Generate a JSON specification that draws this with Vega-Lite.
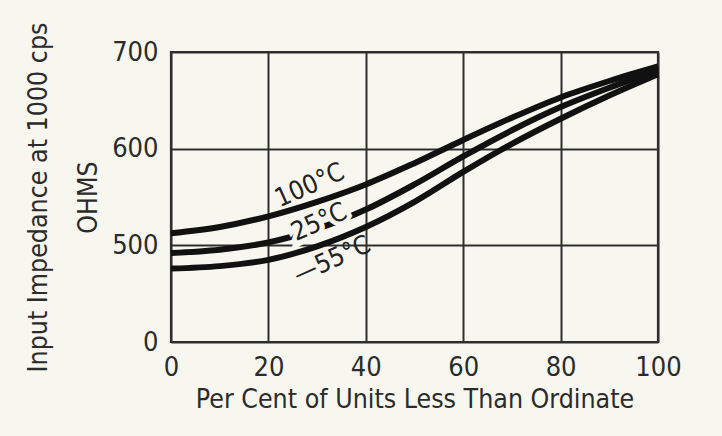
{
  "$schema": "https://vega.github.io/schema/vega-lite/v6.json",
  "width": 487,
  "height": 290,
  "padding": {"left": 171, "top": 52, "right": 64, "bottom": 94},
  "autosize": {"type": "none"},
  "background": "#f7f7ef",
  "config": {
    "font": "DejaVu Sans Condensed",
    "view": {"stroke": "#2e2e2e", "strokeWidth": 2.2},
    "axis": {
      "labelFont": "DejaVu Sans Condensed",
      "titleFont": "DejaVu Sans Condensed",
      "labelColor": "#2b2b2b",
      "titleColor": "#2b2b2b",
      "labelFontSize": 27,
      "titleFontSize": 26.5,
      "titleFontWeight": "normal",
      "gridColor": "#2e2e2e",
      "gridWidth": 2,
      "gridOpacity": 1,
      "domain": false,
      "ticks": false
    }
  },
  "datasets": {
    "curves": [
      {"pct": 0, "ohms": 512.5, "temp": "100°C"},
      {"pct": 10, "ohms": 519, "temp": "100°C"},
      {"pct": 20, "ohms": 530, "temp": "100°C"},
      {"pct": 30, "ohms": 545, "temp": "100°C"},
      {"pct": 40, "ohms": 563, "temp": "100°C"},
      {"pct": 50, "ohms": 585, "temp": "100°C"},
      {"pct": 60, "ohms": 609, "temp": "100°C"},
      {"pct": 70, "ohms": 632, "temp": "100°C"},
      {"pct": 80, "ohms": 653, "temp": "100°C"},
      {"pct": 90, "ohms": 670, "temp": "100°C"},
      {"pct": 100, "ohms": 685, "temp": "100°C"},
      {"pct": 0, "ohms": 492, "temp": "25°C"},
      {"pct": 10, "ohms": 495.5, "temp": "25°C"},
      {"pct": 20, "ohms": 503, "temp": "25°C"},
      {"pct": 30, "ohms": 517, "temp": "25°C"},
      {"pct": 40, "ohms": 537, "temp": "25°C"},
      {"pct": 50, "ohms": 563, "temp": "25°C"},
      {"pct": 60, "ohms": 592, "temp": "25°C"},
      {"pct": 70, "ohms": 619, "temp": "25°C"},
      {"pct": 80, "ohms": 643, "temp": "25°C"},
      {"pct": 90, "ohms": 663, "temp": "25°C"},
      {"pct": 100, "ohms": 681, "temp": "25°C"},
      {"pct": 0, "ohms": 476, "temp": "-55°C"},
      {"pct": 10, "ohms": 478.5, "temp": "-55°C"},
      {"pct": 20, "ohms": 485, "temp": "-55°C"},
      {"pct": 30, "ohms": 499, "temp": "-55°C"},
      {"pct": 40, "ohms": 519, "temp": "-55°C"},
      {"pct": 50, "ohms": 545, "temp": "-55°C"},
      {"pct": 60, "ohms": 576, "temp": "-55°C"},
      {"pct": 70, "ohms": 605, "temp": "-55°C"},
      {"pct": 80, "ohms": 631, "temp": "-55°C"},
      {"pct": 90, "ohms": 655, "temp": "-55°C"},
      {"pct": 100, "ohms": 677, "temp": "-55°C"}
    ],
    "labels": [
      {"pct": 28.5, "ohms": 562, "text": "100°C", "temp": "100°C"},
      {"pct": 30.4, "ohms": 524, "text": "25°C", "temp": "25°C"},
      {"pct": 33.1, "ohms": 485, "text": "—55°C", "temp": "-55°C"}
    ]
  },
  "encoding": {
    "x": {
      "field": "pct",
      "type": "quantitative",
      "scale": {"domain": [0, 100], "nice": false},
      "axis": {
        "values": [0, 20, 40, 60, 80, 100],
        "grid": true,
        "labelPadding": 12,
        "title": "Per Cent of Units Less Than Ordinate",
        "titlePadding": 6,
        "labelFlush": false
      }
    },
    "y": {
      "field": "ohms",
      "type": "quantitative",
      "scale": {"domain": [400, 700], "nice": false, "zero": false},
      "axis": {
        "values": [400, 500, 600, 700],
        "grid": true,
        "labelExpr": "datum.value == 400 ? '0' : datum.label",
        "labelPadding": 13,
        "title": ["Input Impedance at 1000 cps", "OHMS"],
        "titleLineHeight": 50,
        "titleX": -146,
        "titleBaseline": "top"
      }
    }
  },
  "layer": [
    {
      "data": {"name": "curves"},
      "transform": [{"filter": "datum.temp == '25°C'"}],
      "mark": {"type": "line", "color": "#111111", "strokeWidth": 6, "interpolate": "catmull-rom"},
      "encoding": {"detail": {"field": "temp"}}
    },
    {
      "data": {"name": "labels"},
      "transform": [{"filter": "datum.temp == '25°C'"}],
      "mark": {"type": "text", "angle": -26, "fontSize": 26, "font": "DejaVu Sans Condensed", "stroke": "#f7f7ef", "strokeWidth": 10, "color": "#f7f7ef"},
      "encoding": {"text": {"field": "text"}}
    },
    {
      "data": {"name": "curves"},
      "transform": [{"filter": "datum.temp != '25°C'"}],
      "mark": {"type": "line", "color": "#111111", "strokeWidth": 6, "interpolate": "catmull-rom"},
      "encoding": {"detail": {"field": "temp"}}
    },
    {
      "data": {"name": "labels"},
      "mark": {"type": "text", "angle": -24, "fontSize": 26, "font": "DejaVu Sans Condensed", "color": "#222222"},
      "encoding": {"text": {"field": "text"}}
    }
  ]
}
